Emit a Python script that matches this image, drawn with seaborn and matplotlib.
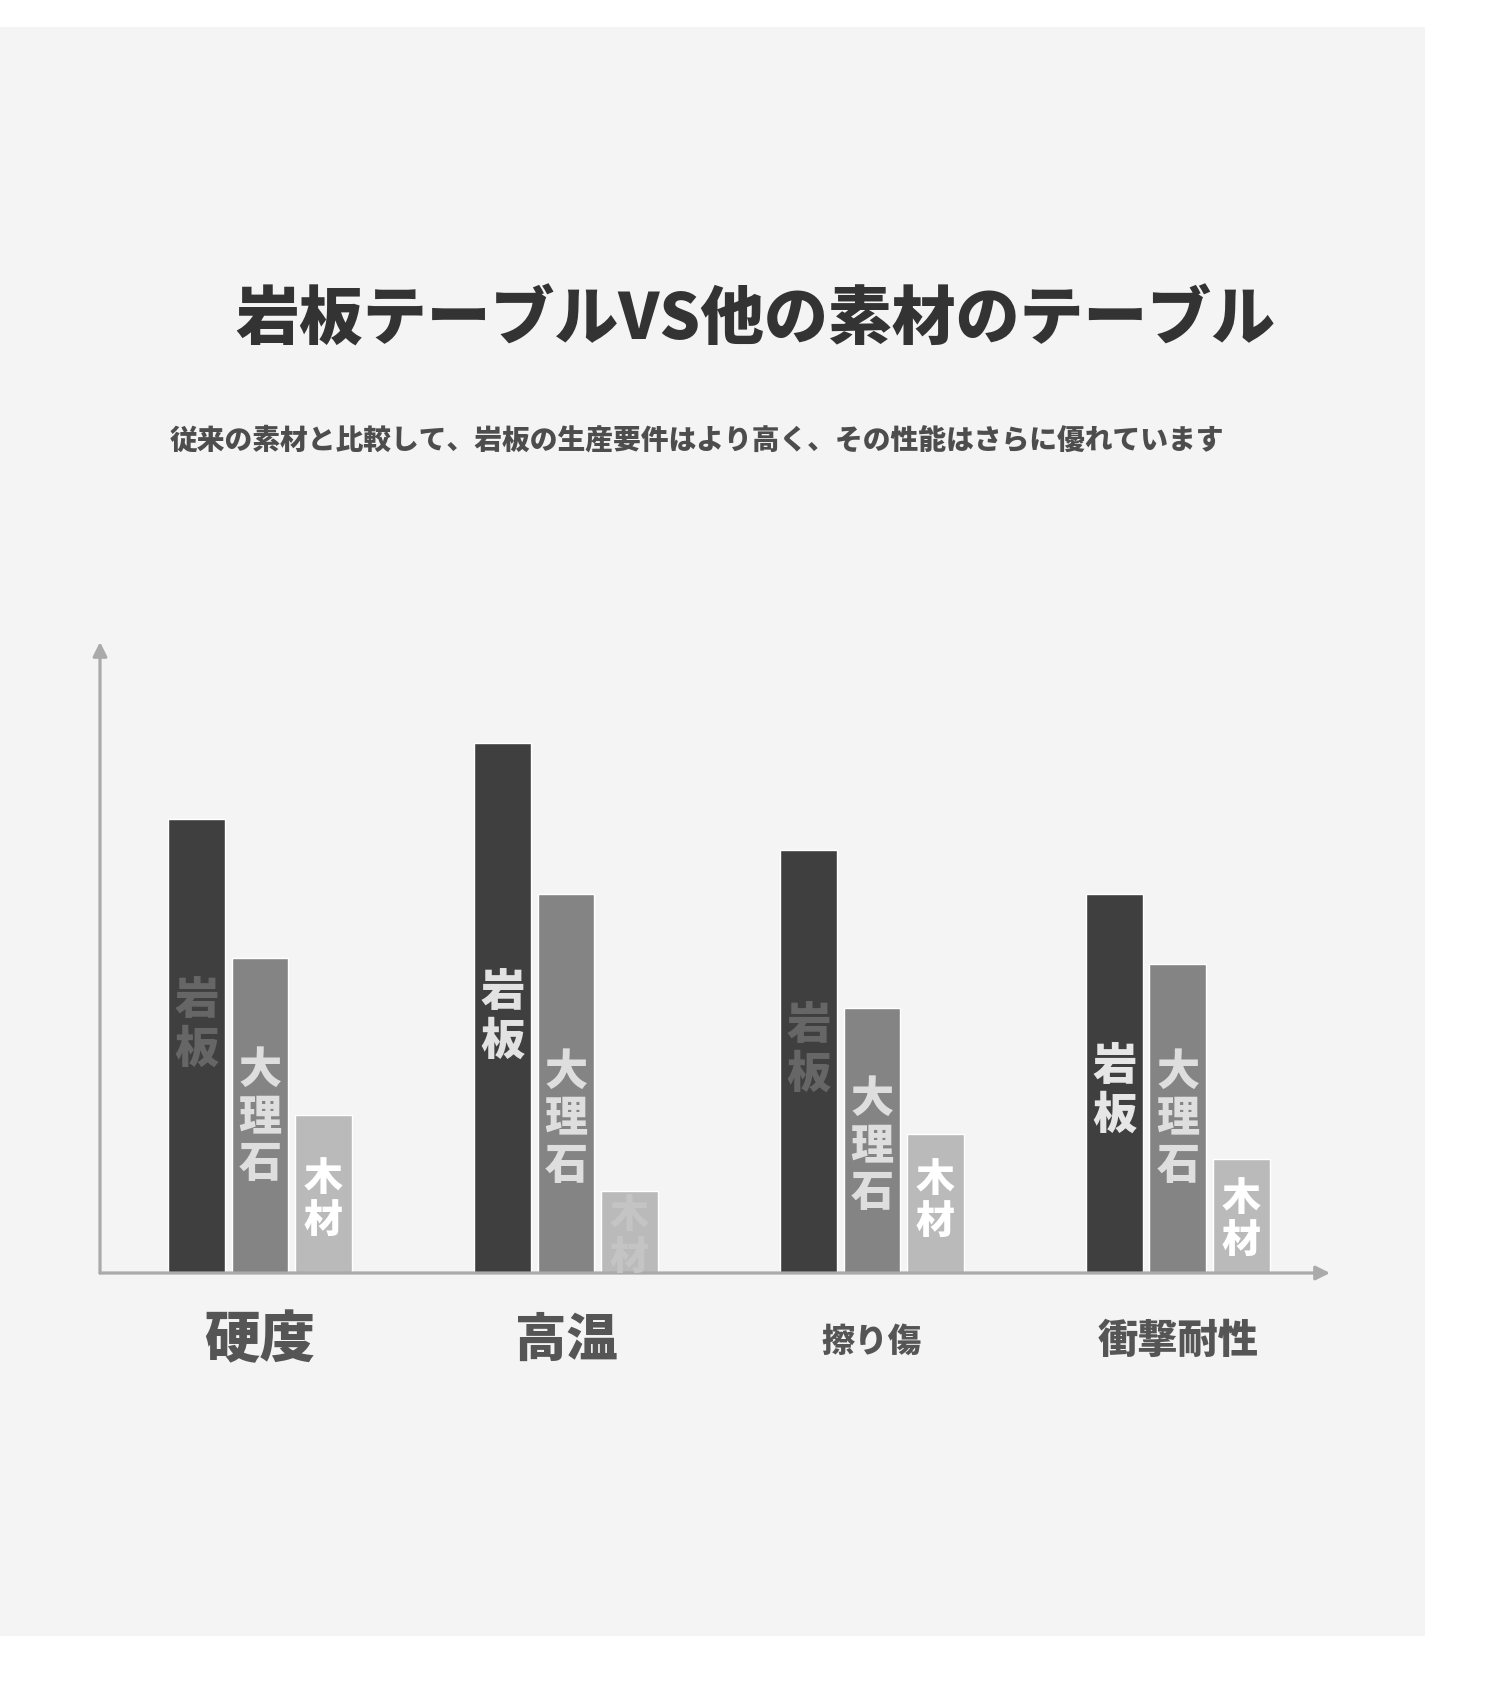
import numpy as np
import pandas as pd
import matplotlib
matplotlib.use('Agg')
import matplotlib.pyplot as plt
import seaborn as sns
from matplotlib.patches import Rectangle

# data
categories = ['硬度', '高温', '擦り傷', '衝撃耐性']
materials = ['岩板', '大理石', '木材']
stone_slab = [72, 84, 67, 60]
marble = [50, 60, 42, 49]
wood = [25, 13, 22, 18]

title = '岩板テーブルVS他の素材のテーブル'
subtitle = '従来の素材と比較して、岩板の生産要件はより高く、その性能はさらに優れています'

df = pd.DataFrame({
    '項目': categories * 3,
    '素材': np.repeat(materials, len(categories)),
    'スコア': stone_slab + marble + wood,
})

# layout of the labels written inside the bars
label_y = {'岩板': [39.3, 40.6, 35.3, 28.8],
           '大理石': [24.7, 24.4, 20.1, 24.4],
           '木材': [11.6, 5.7, 11.4, 8.4]}
label_color = {'岩板': ['#666666', '#e2e2e2', '#666666', '#e6e6e6'],
               '大理石': ['#dedede', '#dedede', '#dedede', '#dedede'],
               '木材': ['#ffffff', '#c4c4c4', '#ffffff', '#ffffff']}
label_size = {'岩板': 32, '大理石': 31, '木材': 28}
tick_size = [40, 37, 24, 29]

sns.set_theme(style='white')
plt.rcParams['font.family'] = ['Noto Sans CJK JP', 'DejaVu Sans']

fig = plt.figure(figsize=(15, 16.88), dpi=100, facecolor='white')
fig.patches.append(Rectangle((0, 1 - 1636 / 1688), 1425 / 1500, (1636 - 27) / 1688,
                             transform=fig.transFigure, facecolor='#f4f4f4',
                             edgecolor='none', zorder=-1))

ax = fig.add_axes([100 / 1500, 1 - 1273 / 1688, 1230 / 1500, 631 / 1688])
ax.set_facecolor('none')
ax.set_zorder(1)

sns.barplot(data=df, x='項目', y='スコア', hue='素材', hue_order=materials,
            order=categories, palette=['#3f3f3f', '#848484', '#bababa'],
            saturation=1, width=0.62, gap=0.1, legend=False, ax=ax, zorder=2)

ax.set_xlim(-0.523, 3.497)
ax.set_ylim(0, 100)
for s in ax.spines.values():
    s.set_visible(False)
ax.set_yticks([])
ax.set_xlabel('')
ax.set_ylabel('')
ax.tick_params(axis='x', length=0, pad=49)
for lab, fs in zip(ax.get_xticklabels(), tick_size):
    lab.set_fontsize(fs)
    lab.set_fontweight('black')
    lab.set_color('#555555')
    lab.set_verticalalignment('center')

# axis arrows
arrow = dict(arrowstyle='-|>,head_length=0.7,head_width=0.35', color='#aaaaaa',
             lw=2.3, shrinkA=0, shrinkB=0)
ax.annotate('', xy=(1, 0), xytext=(0, 0), xycoords='axes fraction', arrowprops=arrow, zorder=3)
ax.annotate('', xy=(0, 1), xytext=(0, 0), xycoords='axes fraction', arrowprops=arrow, zorder=3)

# vertical labels inside the bars
bars = sorted(ax.patches, key=lambda p: p.get_x())
for k, p in enumerate(bars):
    i, j = divmod(k, len(materials))
    m = materials[j]
    ax.text(p.get_x() + p.get_width() / 2, label_y[m][i], '\n'.join(m),
            ha='center', va='center', fontsize=label_size[m], fontweight='black',
            color=label_color[m][i], linespacing=1.1, zorder=4)

fig.text(755 / 1500, 1 - 321 / 1688, title, ha='center', va='center',
         fontsize=46, fontweight='black', color='#333333')
fig.text(697 / 1500, 1 - 440 / 1688, subtitle, ha='center', va='center',
         fontsize=20, fontweight='black', color='#4d4d4d')

fig.savefig('out.png', dpi=100, facecolor='white')
